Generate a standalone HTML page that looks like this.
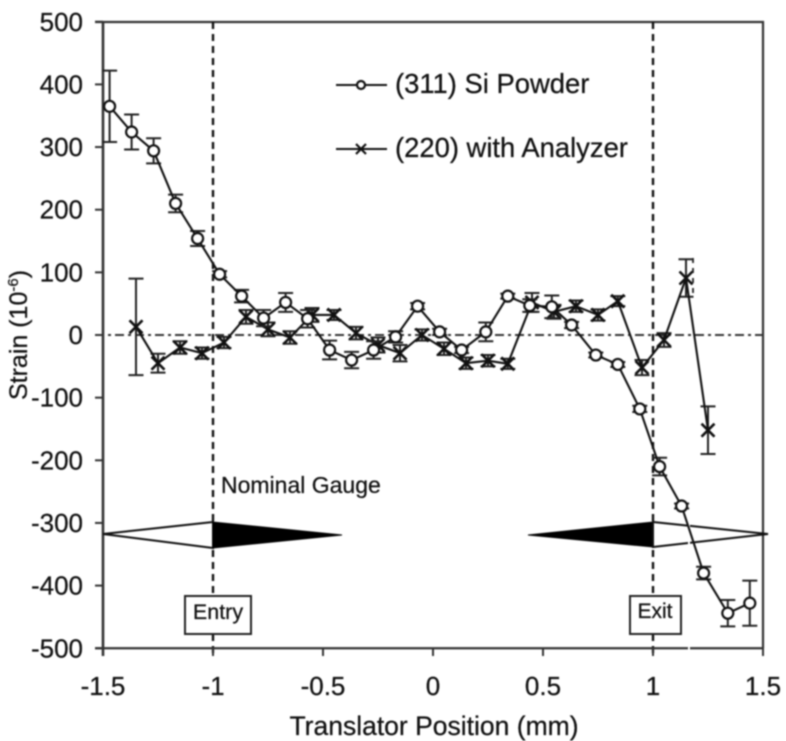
<!DOCTYPE html>
<html lang="en">
<head>
<meta charset="utf-8">
<title>Strain vs Translator Position</title>
<style>
html,body{margin:0;padding:0;background:#fff;}
body{width:786px;height:741px;overflow:hidden;}
svg{display:block;filter:blur(0.7px);}
text{font-family:"Liberation Sans",sans-serif;fill:#111;stroke:#111;stroke-width:0.25px;}
</style>
</head>
<body>
<svg id="chart" xmlns="http://www.w3.org/2000/svg" width="786" height="741" viewBox="0 0 786 741"></svg>
<script>
const xTicks = [-1.5, -1, -0.5, 0, 0.5, 1, 1.5];
const yTicks = [500, 400, 300, 200, 100, 0, -100, -200, -300, -400, -500];

const powderX = [-1.47,-1.37,-1.27,-1.17,-1.07,-0.97,-0.87,-0.77,-0.67,-0.57,-0.47,-0.37,-0.27,-0.17,-0.07,0.03,0.13,0.24,0.34,0.44,0.54,0.63,0.74,0.84,0.94,1.03,1.13,1.23,1.34,1.44];
const powderY = [365,324,294,210,154,97,62,27,52,26,-24,-40,-24,-3,46,5,-24,5,62,47,45,16,-32,-47,-118,-210,-273,-380,-444,-428];
const powderErr = [57,28,20,14,12,5,10,13,15,14,15,13,14,9,5,5,5,15,4,10,18,5,4,4,5,14,4,10,21,36];

const analyzerX = [-1.35,-1.25,-1.15,-1.05,-0.95,-0.85,-0.75,-0.65,-0.55,-0.45,-0.35,-0.25,-0.15,-0.05,0.05,0.15,0.25,0.34,0.45,0.55,0.65,0.75,0.84,0.95,1.05,1.15,1.25];
const analyzerY = [13,-45,-20,-29,-12,29,9,-4,32,32,3,-16,-29,0,-22,-45,-41,-46,52,37,46,32,54,-52,-8,91,-152];
const analyzerErr = [77,15,10,9,9,11,11,10,11,8,10,12,13,9,10,9,9,8,15,11,9,9,8,12,11,30,38];

const svg = document.getElementById('chart');
const NS = 'http://www.w3.org/2000/svg';
const sx = v => 433 + v * 220;
const sy = v => 335 - v * 0.6265;

function add(tag, attrs, parent) {
  const el = document.createElementNS(NS, tag);
  for (const k in attrs) el.setAttribute(k, attrs[k]);
  (parent || svg).appendChild(el);
  return el;
}
function group(parent) { return add('g', {}, parent); }

/* frame */
const frame = add('path', {d:'M95 22H763V648.5', fill:'none', stroke:'#333', 'stroke-width':2.2});



/* zero line */
const zero = add('line', {x1:95, x2:763, y1:sy(0), y2:sy(0), stroke:'#333', 'stroke-width':2, 'stroke-dasharray':'9 4 3 4'});



/* gauge lines */
const gaugeEntry = add('line', {x1:sx(-1), x2:sx(-1), y1:22, y2:655, stroke:'#111', 'stroke-width':2.4, 'stroke-dasharray':'7 5'});


const gaugeExit = add('line', {x1:sx(1), x2:sx(1), y1:22, y2:655, stroke:'#111', 'stroke-width':2.4, 'stroke-dasharray':'7 5'});



/* axes */
const yAxis = group();


add('line', {x1:sx(-1.5), x2:sx(-1.5), y1:22, y2:656, stroke:'#333', 'stroke-width':2.6}, yAxis);
yTicks.forEach(t => {
  add('line', {x1:95, x2:sx(-1.5), y1:sy(t), y2:sy(t), stroke:'#333', 'stroke-width':2}, yAxis);
  const lab = add('text', {x:83, y:sy(t) + 9, 'text-anchor':'end', 'font-size':26}, yAxis);
  
  
  lab.textContent = t;
});
const xAxis = group();


add('line', {x1:95, x2:763, y1:sy(-500), y2:sy(-500), stroke:'#333', 'stroke-width':2.2}, xAxis);
xTicks.forEach(t => {
  add('line', {x1:sx(t), x2:sx(t), y1:sy(-500), y2:656, stroke:'#333', 'stroke-width':2}, xAxis);
  const lab = add('text', {x:sx(t), y:695, 'text-anchor':'middle', 'font-size':26}, xAxis);
  
  
  lab.textContent = t;
});

/* axis titles */
const xTitle = add('text', {x:434, y:735, 'text-anchor':'middle', 'font-size':26.5});


xTitle.textContent = 'Translator Position (mm)';
const yTitle = add('text', {x:0, y:0, 'text-anchor':'middle', 'font-size':25, transform:'translate(27 335) rotate(-90)'});


yTitle.textContent = 'Strain (10';
const yExp = add('tspan', {'font-size':15, dy:-9}, yTitle);
yExp.textContent = '-6';
const yClose = add('tspan', {dy:9}, yTitle);
yClose.textContent = ')';

/* gauge arrows */
const arrowEntryOpen = add('polygon', {points:'103,534 213,522 213,548', fill:'#fff', stroke:'#111', 'stroke-width':2});


const arrowEntrySolid = add('polygon', {points:'342,535 213,522 213,548', fill:'#000', stroke:'#000', 'stroke-width':1});


const arrowExitSolid = add('polygon', {points:'528,535 653,522 653,547', fill:'#000', stroke:'#000', 'stroke-width':1});


const arrowExitOpen = add('polygon', {points:'768,534 653,522 653,547', fill:'#fff', stroke:'#111', 'stroke-width':2});



/* scan artefacts around x = 689 */
const scanGap = add('rect', {x:688, y:505, width:2, height:152, fill:'#fff'});


const scanDash = add('line', {x1:693, x2:693, y1:258, y2:298, stroke:'#222', 'stroke-width':1.8, 'stroke-dasharray':'5 5'});



/* annotations */
const gaugeLabel = add('text', {x:221, y:493, 'font-size':23});


gaugeLabel.textContent = 'Nominal Gauge';

const entryBox = add('rect', {x:185, y:596, width:66, height:38, fill:'#fff', stroke:'#222', 'stroke-width':2});


const entryText = add('text', {x:218, y:619, 'text-anchor':'middle', 'font-size':21.5});


entryText.textContent = 'Entry';
const exitBox = add('rect', {x:630, y:596, width:51, height:38, fill:'#fff', stroke:'#222', 'stroke-width':2});


const exitText = add('text', {x:655, y:618, 'text-anchor':'middle', 'font-size':21});


exitText.textContent = 'Exit';

/* markers */
function circleMark(x, y, parent, r) {
  add('circle', {cx:x, cy:y, r:r, fill:'#fff', stroke:'#111', 'stroke-width':2.2}, parent);
}
function crossMark(x, y, parent, s, w) {
  add('path', {d:`M${x-s} ${y-s}L${x+s} ${y+s}M${x-s} ${y+s}L${x+s} ${y-s}`, stroke:'#111', 'stroke-width':w, fill:'none'}, parent);
}
function errorBar(x, y, e, parent) {
  const top = sy(y + e), bot = sy(y - e), cap = 7.5;
  add('path', {d:`M${x} ${top}V${bot}M${x-cap} ${top}H${x+cap}M${x-cap} ${bot}H${x+cap}`, stroke:'#222', 'stroke-width':2, fill:'none'}, parent);
}
function linePath(xs, ys) {
  return xs.map((v, i) => (i ? 'L' : 'M') + sx(v) + ' ' + sy(ys[i])).join('');
}

/* series (220) */
const analyzerGroup = group();


analyzerX.forEach((v, i) => errorBar(sx(v), analyzerY[i], analyzerErr[i], analyzerGroup));
add('path', {d:linePath(analyzerX, analyzerY), fill:'none', stroke:'#111', 'stroke-width':2.1}, analyzerGroup);
analyzerX.forEach((v, i) => crossMark(sx(v), sy(analyzerY[i]), analyzerGroup, 6.5, 2.6));

/* series (311) */
const powderGroup = group();


powderX.forEach((v, i) => errorBar(sx(v), powderY[i], powderErr[i], powderGroup));
add('path', {d:linePath(powderX, powderY), fill:'none', stroke:'#111', 'stroke-width':2.1}, powderGroup);
powderX.forEach((v, i) => circleMark(sx(v), sy(powderY[i]), powderGroup, 5.5));

/* legend */
const legendPowder = group();


add('line', {x1:336, x2:387, y1:85, y2:85, stroke:'#111', 'stroke-width':2}, legendPowder);
circleMark(361, 85, legendPowder, 4);
const legendPowderText = add('text', {x:395, y:93, 'font-size':27.4}, legendPowder);
legendPowderText.textContent = '(311) Si Powder';
const legendAnalyzer = group();


add('line', {x1:336, x2:387, y1:149, y2:149, stroke:'#111', 'stroke-width':2}, legendAnalyzer);
crossMark(361, 149, legendAnalyzer, 5, 2.2);
const legendAnalyzerText = add('text', {x:395, y:157, 'font-size':27.4}, legendAnalyzer);
legendAnalyzerText.textContent = '(220) with Analyzer';
</script>
</body>
</html>
